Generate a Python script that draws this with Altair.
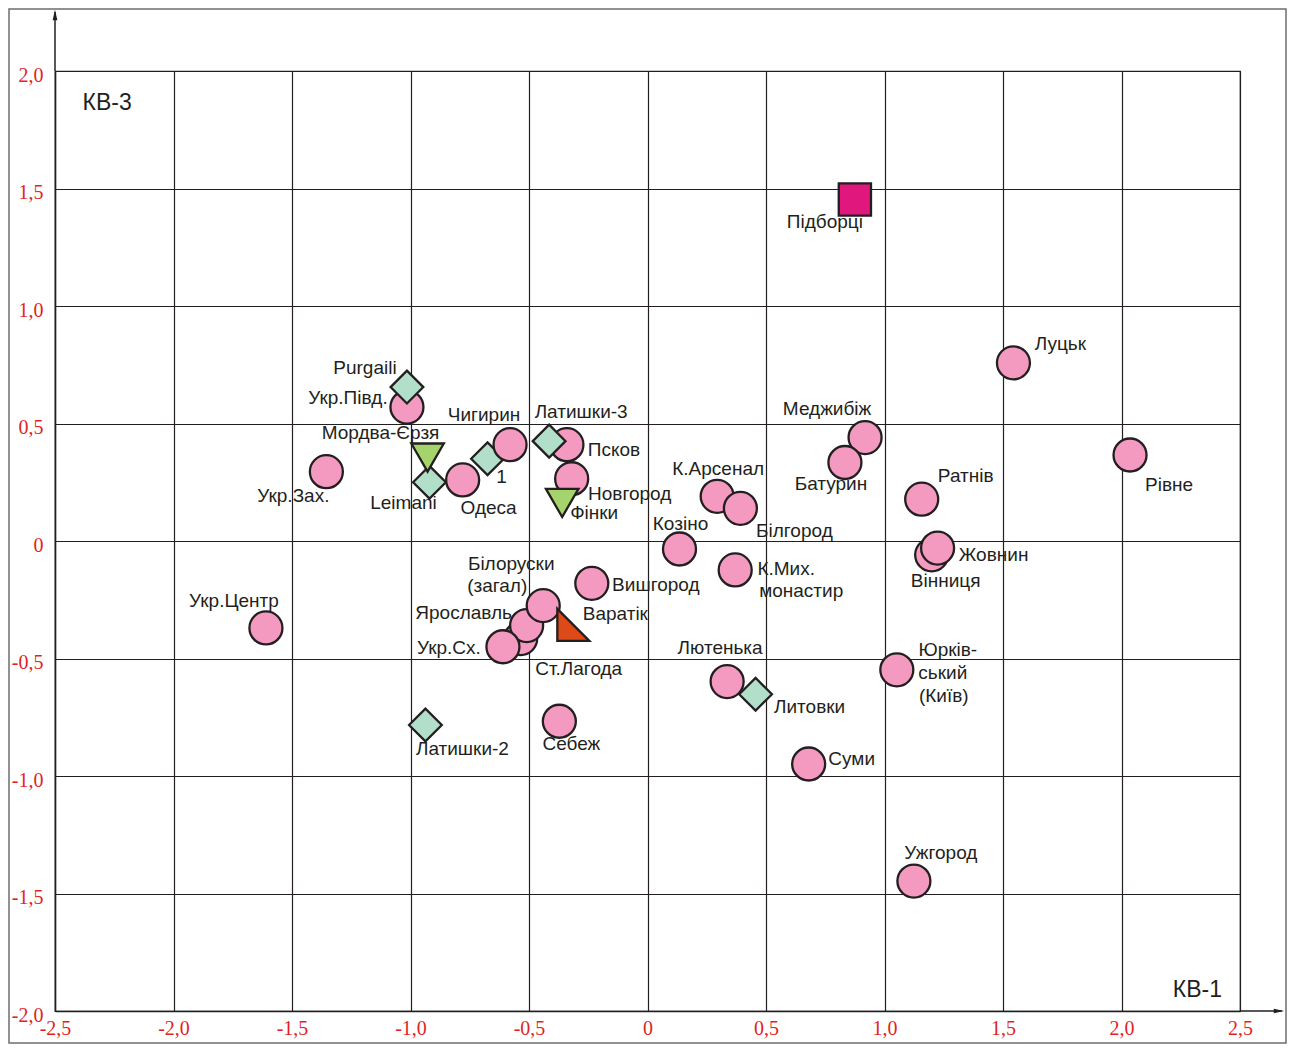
import altair as alt
import pandas as pd

# ---------------- data ----------------
names = [
    "Укр.Центр", "Укр.Зах.", "Укр.Півд.", "Purgaili", "Leimani", "Мордва-Єрзя",
    "Одеса", "1", "Чигирин", "Псков", "Латишки-3", "Новгород", "Фінки",
    "Ст.Лагода", "Ярославль", "Укр.Сх.", "Білоруски (загал)", "Варатік",
    "Вишгород", "Латишки-2", "Себеж", "Козіно", "К.Арсенал", "Білгород",
    "К.Мих. монастир", "Меджибіж", "Батурин", "Підборці", "Вінниця", "Жовнин",
    "Ратнів", "Лютенька", "Литовки", "Юрківський (Київ)", "Суми", "Ужгород",
    "Луцьк", "Рівне",
]
kv1 = [
    -1.61, -1.355, -1.015, -1.015, -0.92, -0.928,
    -0.78, -0.675, -0.58, -0.34, -0.415, -0.32, -0.36,
    -0.535, -0.51, -0.61, -0.44, -0.313,
    -0.235, -0.937, -0.372, 0.135, 0.294, 0.392,
    0.37, 0.918, 0.833, 0.875, 1.199, 1.224,
    1.157, 0.336, 0.456, 1.052, 0.68, 1.124,
    1.544, 2.036,
]
kv3 = [
    -0.37, 0.295, 0.57, 0.655, 0.25, 0.355,
    0.26, 0.35, 0.41, 0.41, 0.425, 0.265, 0.162,
    -0.415, -0.36, -0.45, -0.275, -0.357,
    -0.18, -0.783, -0.767, -0.034, 0.19, 0.139,
    -0.123, 0.44, 0.334, 1.453, -0.059, -0.03,
    0.178, -0.598, -0.652, -0.548, -0.949, -1.447,
    0.758, 0.366,
]
kinds = [
    "circle", "circle", "circle", "diamond", "diamond", "triangle",
    "circle", "diamond", "circle", "circle", "diamond", "circle", "triangle",
    "circle", "circle", "circle", "circle", "rtriangle",
    "circle", "diamond", "circle", "circle", "circle", "circle",
    "circle", "circle", "circle", "square", "circle", "circle",
    "circle", "circle", "diamond", "circle", "circle", "circle",
    "circle", "circle",
]

# label lines: (point name, text of the line)
label_lines = [
    ("Укр.Центр", "Укр.Центр"), ("Укр.Зах.", "Укр.Зах."), ("Укр.Півд.", "Укр.Півд."),
    ("Purgaili", "Purgaili"), ("Leimani", "Leimani"), ("Мордва-Єрзя", "Мордва-Єрзя"),
    ("Одеса", "Одеса"), ("1", "1"), ("Чигирин", "Чигирин"), ("Псков", "Псков"),
    ("Латишки-3", "Латишки-3"), ("Новгород", "Новгород"), ("Фінки", "Фінки"),
    ("Ст.Лагода", "Ст.Лагода"), ("Ярославль", "Ярославль"), ("Укр.Сх.", "Укр.Сх."),
    ("Білоруски (загал)", "Білоруски"), ("Білоруски (загал)", "(загал)"),
    ("Варатік", "Варатік"), ("Вишгород", "Вишгород"), ("Латишки-2", "Латишки-2"),
    ("Себеж", "Себеж"), ("Козіно", "Козіно"), ("К.Арсенал", "К.Арсенал"),
    ("Білгород", "Білгород"), ("К.Мих. монастир", "К.Мих."),
    ("К.Мих. монастир", "монастир"), ("Меджибіж", "Меджибіж"), ("Батурин", "Батурин"),
    ("Підборці", "Підборці"), ("Вінниця", "Вінниця"), ("Жовнин", "Жовнин"),
    ("Ратнів", "Ратнів"), ("Лютенька", "Лютенька"), ("Литовки", "Литовки"),
    ("Юрківський (Київ)", "Юрків-"), ("Юрківський (Київ)", "ський"),
    ("Юрківський (Київ)", "(Київ)"), ("Суми", "Суми"), ("Ужгород", "Ужгород"),
    ("Луцьк", "Луцьк"), ("Рівне", "Рівне"),
]

axis_ticks_x = [-2.5, -2.0, -1.5, -1.0, -0.5, 0.0, 0.5, 1.0, 1.5, 2.0, 2.5]
axis_ticks_y = [-2.0, -1.5, -1.0, -0.5, 0.0, 0.5, 1.0, 1.5, 2.0]

corner_texts = ["КВ-3", "КВ-1"]
corner_x = [-2.28, 2.32]
corner_y = [1.863, -1.911]

# ---------------- layout (pixel offsets of labels from their markers) ----------------
label_offsets = [
    (-32, -27), (-33, 24), (-59, -9),
    (-42, -19), (-26, 21), (-47, -25),
    (26, 28), (14, 18), (-26, -30), (47, 5),
    (32, -29), (58, 15), (32, 10),
    (58, 30), (-63, -13), (-54, 1),
    (-32, -42), (-46, -20),
    (42, -11), (64, 2), (37, 24),
    (12, 23), (1, -25), (1, -27),
    (54, 23), (51, -1),
    (66, 21), (-38, -29), (-14, 21),
    (-30, 22), (14, 26), (56, 7),
    (44, -23), (-7, -34), (54, 13),
    (51, -20), (46, 3),
    (47, 26), (43, -5), (27, -28),
    (47, -19), (39, 30),
]

W, H = 1185, 940
PAD_L, PAD_T, PAD_R, PAD_B = 47, 63, 47, 33
PX_X = W / 5.0   # pixels per unit
PX_Y = H / 4.0

pts = pd.DataFrame({"name": names, "x": kv1, "y": kv3, "kind": kinds})
pts["order"] = range(len(pts))

pos = {n: (a, b) for n, a, b in zip(names, kv1, kv3)}
lab_rows = []
for (n, t), (dx, dy) in zip(label_lines, label_offsets):
    px, py = pos[n]
    lab_rows.append({"x": px + dx / PX_X, "y": py - dy / PX_Y, "text": t})
labs = pd.DataFrame(lab_rows)

corners = pd.DataFrame({"x": corner_x, "y": corner_y, "text": corner_texts})

xscale = alt.Scale(domain=[-2.5, 2.5], nice=False, zero=False)
yscale = alt.Scale(domain=[-2.0, 2.0], nice=False, zero=False)

lab_expr = "datum.value == 0 ? '0' : (datum.value < 0 ? '-' : '') + replace(format(abs(datum.value), '.1f'), '.', ',')"

xaxis = alt.Axis(values=axis_ticks_x, title=None, labelExpr=lab_expr, grid=True,
                 ticks=False, labelPadding=7, labelFlush=False, labelOverlap=False)
yaxis = alt.Axis(values=axis_ticks_y, title=None, labelExpr=lab_expr, grid=True,
                 ticks=False, labelPadding=12, labelOverlap=False, labelOffset=4)

INK = "#231f20"

text_layer = alt.Chart(labs).mark_text(
    font="Liberation Sans", fontSize=19, color=INK, align="center", baseline="middle"
).encode(
    x=alt.X("x:Q", scale=xscale, axis=xaxis),
    y=alt.Y("y:Q", scale=yscale, axis=yaxis),
    text="text:N",
)

corner_layer = alt.Chart(corners).mark_text(
    font="Liberation Sans", fontSize=23, color=INK, align="center", baseline="middle"
).encode(x="x:Q", y="y:Q", text="text:N")

kind_domain = ["circle", "diamond", "triangle", "square", "rtriangle"]
point_layer = alt.Chart(pts).mark_point(
    filled=True, stroke=INK, strokeWidth=2.3, opacity=1
).encode(
    x="x:Q",
    y="y:Q",
    shape=alt.Shape("kind:N", scale=alt.Scale(
        domain=kind_domain,
        range=["circle", "diamond", "triangle-down", "square", "M-1,-1L-1,1L1,1Z"]),
        legend=None),
    fill=alt.Fill("kind:N", scale=alt.Scale(
        domain=kind_domain,
        range=["#f49ac1", "#b2dfc9", "#a6d46c", "#e0187e", "#dc4a18"]),
        legend=None),
    size=alt.Size("kind:N", scale=alt.Scale(
        domain=kind_domain, range=[1089, 1024, 800, 841, 1089]), legend=None),
    order=alt.Order("order:Q"),
)

one = pd.DataFrame({"a": [0]})
frame = alt.Chart(one).mark_rect(fillOpacity=0, stroke="#6d6d6d", strokeWidth=1.5).encode(
    x=alt.value(-PAD_L + 1), x2=alt.value(W + PAD_R - 1),
    y=alt.value(-PAD_T + 1), y2=alt.value(H + PAD_B - 1)
)
y_ext = alt.Chart(one).mark_rule(color=INK, strokeWidth=1.5).encode(
    x=alt.value(0), y=alt.value(-PAD_T + 4), y2=alt.value(0)
)
x_ext = alt.Chart(one).mark_rule(color=INK, strokeWidth=1.5).encode(
    x=alt.value(W), x2=alt.value(W + 42), y=alt.value(H)
)
y_arrow = alt.Chart(one).mark_point(filled=True, color=INK, opacity=1).encode(
    x=alt.value(0), y=alt.value(-PAD_T + 7),
    shape=alt.value("M0,-1L-0.45,1L0.45,1Z"), size=alt.value(110)
)
x_arrow = alt.Chart(one).mark_point(filled=True, color=INK, opacity=1).encode(
    x=alt.value(W + 39), y=alt.value(H),
    shape=alt.value("M1,0L-1,-0.45L-1,0.45Z"), size=alt.value(110)
)

chart = alt.layer(
    text_layer, corner_layer, point_layer, frame, y_ext, x_ext, y_arrow, x_arrow
).properties(
    width=W, height=H,
    autosize=alt.AutoSizeParams(type="none"),
    padding={"left": PAD_L, "top": PAD_T, "right": PAD_R, "bottom": PAD_B},
    background="white",
).configure_axis(
    domainColor=INK, domainWidth=1.5,
    gridColor=INK, gridWidth=1.2, gridOpacity=1,
    labelColor="#e31e24", labelFont="Liberation Serif", labelFontSize=20,
).configure_view(
    stroke=INK, strokeWidth=1.2
)

chart.save("out.html", embed_options={"renderer": "svg", "actions": False})
